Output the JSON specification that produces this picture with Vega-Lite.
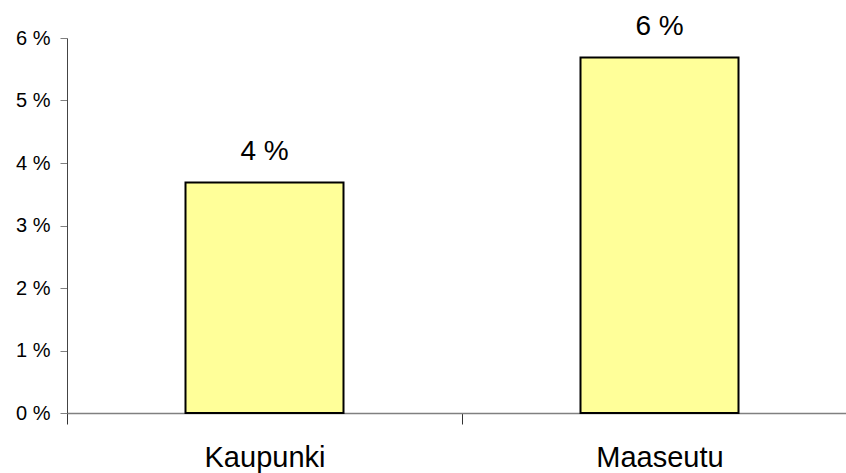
{
  "$schema": "https://vega.github.io/schema/vega-lite/v6.json",
  "width": 790,
  "height": 375,
  "autosize": {"type": "none"},
  "padding": {"left": 67, "top": 38, "right": 0, "bottom": 60},
  "background": "white",
  "config": {
    "view": {"stroke": null},
    "font": "Liberation Sans"
  },
  "data": {
    "values": [
      {"alue": "Kaupunki", "osuus": 3.69},
      {"alue": "Maaseutu", "osuus": 5.69}
    ]
  },
  "encoding": {
    "x": {
      "field": "alue",
      "type": "nominal",
      "sort": null,
      "scale": {"paddingInner": 0, "paddingOuter": 0},
      "axis": {
        "title": null,
        "labelAngle": 0,
        "labelFontSize": 29,
        "labelColor": "black",
        "labelPadding": 19,
        "tickBand": "extent",
        "tickSize": 11,
        "tickColor": "#333",
        "domainColor": "#808080",
        "domainWidth": 1.5
      }
    },
    "y": {
      "field": "osuus",
      "type": "quantitative",
      "scale": {"domain": [0, 6], "nice": false},
      "axis": {
        "title": null,
        "values": [0, 1, 2, 3, 4, 5, 6],
        "labelExpr": "datum.value + ' %'",
        "labelFontSize": 20,
        "labelColor": "black",
        "labelPadding": 10,
        "tickSize": 7,
        "tickColor": "#808080",
        "domainColor": "#444",
        "grid": false
      }
    }
  },
  "layer": [
    {
      "mark": {"type": "bar", "width": {"band": 0.4}, "fill": "#FFFF99", "stroke": "black", "strokeWidth": 2}
    },
    {
      "transform": [
        {"calculate": "format(datum.osuus, '.0f') + ' %'", "as": "teksti"}
      ],
      "mark": {"type": "text", "fontSize": 28, "color": "black", "baseline": "alphabetic", "dy": -22},
      "encoding": {
        "text": {"field": "teksti"}
      }
    }
  ]
}
